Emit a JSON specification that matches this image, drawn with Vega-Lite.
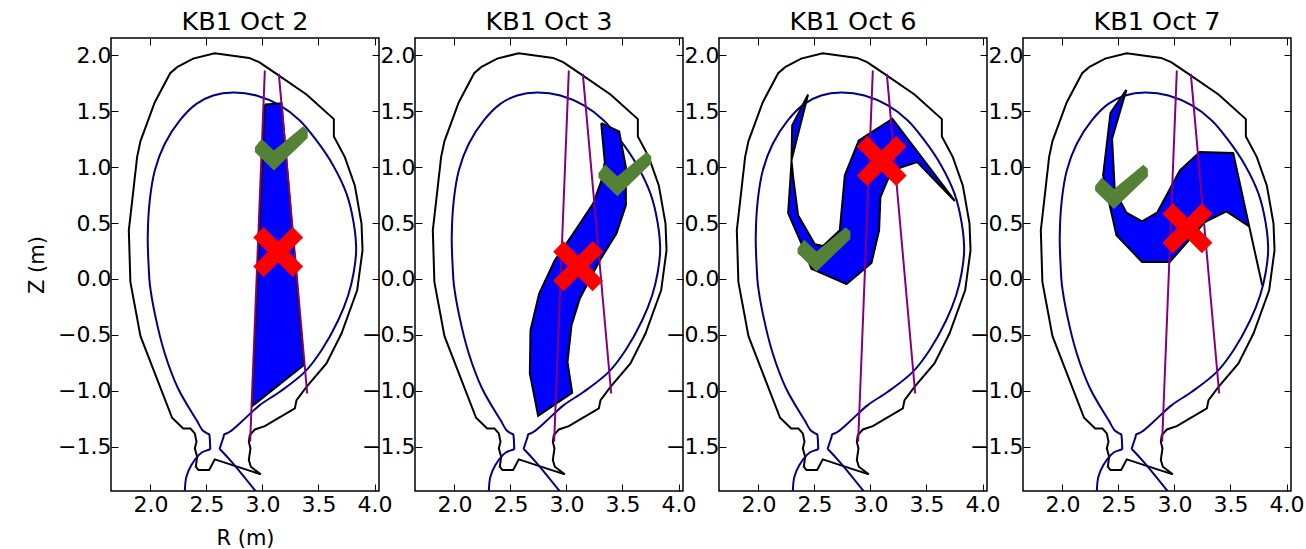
{"$schema":"https://vega.github.io/schema/vega-lite/v6.json","padding":{"left":25,"top":9,"right":5,"bottom":5},"background":"white","bounds":"flush","spacing":36,
"datasets":{
"wall":[{"i":0,"R":1.807,"Z":0.435},{"i":1,"R":1.881,"Z":1.089},{"i":2,"R":1.911,"Z":1.232},{"i":3,"R":2.039,"Z":1.58},{"i":4,"R":2.176,"Z":1.839},{"i":5,"R":2.238,"Z":1.893},{"i":6,"R":2.381,"Z":1.97},{"i":7,"R":2.574,"Z":2.018},{"i":8,"R":2.881,"Z":1.976},{"i":9,"R":2.97,"Z":1.938},{"i":10,"R":3.125,"Z":1.833},{"i":11,"R":3.393,"Z":1.649},{"i":12,"R":3.637,"Z":1.429},{"i":13,"R":3.637,"Z":1.274},{"i":14,"R":3.735,"Z":1.089},{"i":15,"R":3.824,"Z":0.836},{"i":16,"R":3.884,"Z":0.494},{"i":17,"R":3.893,"Z":0.256},{"i":18,"R":3.845,"Z":-0.102},{"i":19,"R":3.705,"Z":-0.488},{"i":20,"R":3.571,"Z":-0.756},{"i":21,"R":3.393,"Z":-0.965},{"i":22,"R":3.304,"Z":-1.084},{"i":23,"R":3.289,"Z":-1.158},{"i":24,"R":3.021,"Z":-1.316},{"i":25,"R":2.932,"Z":-1.346},{"i":26,"R":2.887,"Z":-1.396},{"i":27,"R":2.878,"Z":-1.456},{"i":28,"R":2.893,"Z":-1.515},{"i":29,"R":2.878,"Z":-1.619},{"i":30,"R":2.896,"Z":-1.679},{"i":31,"R":2.985,"Z":-1.747},{"i":32,"R":2.574,"Z":-1.613},{"i":33,"R":2.524,"Z":-1.709},{"i":34,"R":2.429,"Z":-1.709},{"i":35,"R":2.405,"Z":-1.679},{"i":36,"R":2.417,"Z":-1.59},{"i":37,"R":2.396,"Z":-1.515},{"i":38,"R":2.411,"Z":-1.456},{"i":39,"R":2.396,"Z":-1.381},{"i":40,"R":2.357,"Z":-1.337},{"i":41,"R":2.292,"Z":-1.337},{"i":42,"R":2.193,"Z":-1.241},{"i":43,"R":1.911,"Z":-0.512},{"i":44,"R":1.821,"Z":-0.027},{"i":45,"R":1.807,"Z":0.435}],
"separatrix":[{"i":0,"R":2.307,"Z":-1.896},{"i":1,"R":2.321,"Z":-1.768},{"i":2,"R":2.366,"Z":-1.664},{"i":3,"R":2.455,"Z":-1.554},{"i":4,"R":2.52,"Z":-1.527},{"i":5,"R":2.533,"Z":-1.521},{"i":6,"R":2.533,"Z":-1.5},{"i":7,"R":2.528,"Z":-1.41},{"i":8,"R":2.524,"Z":-1.39},{"i":9,"R":2.515,"Z":-1.385},{"i":10,"R":2.47,"Z":-1.358},{"i":11,"R":2.411,"Z":-1.262},{"i":12,"R":2.247,"Z":-0.98},{"i":13,"R":2.128,"Z":-0.667},{"i":14,"R":2.039,"Z":-0.31},{"i":15,"R":1.994,"Z":-0.042},{"i":16,"R":1.985,"Z":0.092},{"i":17,"R":1.976,"Z":0.375},{"i":18,"R":1.994,"Z":0.702},{"i":19,"R":2.039,"Z":0.97},{"i":20,"R":2.128,"Z":1.208},{"i":21,"R":2.262,"Z":1.417},{"i":22,"R":2.41,"Z":1.565},{"i":23,"R":2.56,"Z":1.64},{"i":24,"R":2.738,"Z":1.667},{"i":25,"R":2.946,"Z":1.64},{"i":26,"R":3.155,"Z":1.551},{"i":27,"R":3.333,"Z":1.417},{"i":28,"R":3.482,"Z":1.238},{"i":29,"R":3.631,"Z":1.015},{"i":30,"R":3.75,"Z":0.762},{"i":31,"R":3.815,"Z":0.494},{"i":32,"R":3.836,"Z":0.256},{"i":33,"R":3.815,"Z":0.062},{"i":34,"R":3.765,"Z":-0.146},{"i":35,"R":3.676,"Z":-0.369},{"i":36,"R":3.527,"Z":-0.637},{"i":37,"R":3.378,"Z":-0.831},{"i":38,"R":3.155,"Z":-1.009},{"i":39,"R":2.976,"Z":-1.128},{"i":40,"R":2.8125,"Z":-1.277},{"i":41,"R":2.708,"Z":-1.366},{"i":42,"R":2.67,"Z":-1.385},{"i":43,"R":2.658,"Z":-1.39},{"i":44,"R":2.653,"Z":-1.41},{"i":45,"R":2.624,"Z":-1.5},{"i":46,"R":2.619,"Z":-1.521},{"i":47,"R":2.63,"Z":-1.532},{"i":48,"R":2.723,"Z":-1.634},{"i":49,"R":2.9375,"Z":-1.896}],
"chords":[{"chord":"a","i":0,"R":3.021,"Z":1.863},{"chord":"a","i":1,"R":2.89,"Z":-1.456},{"chord":"b","i":0,"R":3.146,"Z":1.833},{"chord":"b","i":1,"R":3.399,"Z":-1.024}],
"regions":[
{"day":"Oct 2","i":0,"R":3.021,"Z":1.56},{"day":"Oct 2","i":1,"R":3.17,"Z":1.571},{"day":"Oct 2","i":2,"R":3.369,"Z":-0.771},{"day":"Oct 2","i":3,"R":2.908,"Z":-1.137},{"day":"Oct 2","i":4,"R":3.021,"Z":1.56},
{"day":"Oct 3","i":0,"R":3.31,"Z":1.393},{"day":"Oct 3","i":1,"R":3.47,"Z":1.319},{"day":"Oct 3","i":2,"R":3.53,"Z":1.0},{"day":"Oct 3","i":3,"R":3.53,"Z":0.658},{"day":"Oct 3","i":4,"R":3.446,"Z":0.405},{"day":"Oct 3","i":5,"R":3.298,"Z":0.167},{"day":"Oct 3","i":6,"R":3.119,"Z":-0.175},{"day":"Oct 3","i":7,"R":3.045,"Z":-0.413},{"day":"Oct 3","i":8,"R":3.009,"Z":-0.741},{"day":"Oct 3","i":9,"R":3.051,"Z":-1.017},{"day":"Oct 3","i":10,"R":2.747,"Z":-1.223},{"day":"Oct 3","i":11,"R":2.673,"Z":-0.845},{"day":"Oct 3","i":12,"R":2.679,"Z":-0.458},{"day":"Oct 3","i":13,"R":2.756,"Z":-0.13},{"day":"Oct 3","i":14,"R":2.896,"Z":0.167},{"day":"Oct 3","i":15,"R":3.06,"Z":0.405},{"day":"Oct 3","i":16,"R":3.238,"Z":0.673},{"day":"Oct 3","i":17,"R":3.313,"Z":0.881},{"day":"Oct 3","i":18,"R":3.342,"Z":1.045},{"day":"Oct 3","i":19,"R":3.31,"Z":1.393},
{"day":"Oct 6","i":0,"R":2.443,"Z":1.649},{"day":"Oct 6","i":1,"R":2.301,"Z":1.372},{"day":"Oct 6","i":2,"R":2.295,"Z":1.045},{"day":"Oct 6","i":3,"R":2.265,"Z":0.589},{"day":"Oct 6","i":4,"R":2.384,"Z":0.316},{"day":"Oct 6","i":5,"R":2.473,"Z":0.092},{"day":"Oct 6","i":6,"R":2.786,"Z":-0.047},{"day":"Oct 6","i":7,"R":3.009,"Z":0.143},{"day":"Oct 6","i":8,"R":3.077,"Z":0.435},{"day":"Oct 6","i":9,"R":3.089,"Z":0.732},{"day":"Oct 6","i":10,"R":3.158,"Z":0.896},{"day":"Oct 6","i":11,"R":3.262,"Z":0.994},{"day":"Oct 6","i":12,"R":3.417,"Z":1.045},{"day":"Oct 6","i":13,"R":3.753,"Z":0.697},{"day":"Oct 6","i":14,"R":3.196,"Z":1.432},{"day":"Oct 6","i":15,"R":2.896,"Z":1.238},{"day":"Oct 6","i":16,"R":2.771,"Z":0.926},{"day":"Oct 6","i":17,"R":2.726,"Z":0.435},{"day":"Oct 6","i":18,"R":2.577,"Z":0.295},{"day":"Oct 6","i":19,"R":2.503,"Z":0.31},{"day":"Oct 6","i":20,"R":2.354,"Z":0.569},{"day":"Oct 6","i":21,"R":2.31,"Z":0.911},{"day":"Oct 6","i":22,"R":2.295,"Z":1.06},{"day":"Oct 6","i":23,"R":2.443,"Z":1.649},
{"day":"Oct 7","i":0,"R":2.571,"Z":1.691},{"day":"Oct 7","i":1,"R":2.429,"Z":1.485},{"day":"Oct 7","i":2,"R":2.363,"Z":0.926},{"day":"Oct 7","i":3,"R":2.482,"Z":0.39},{"day":"Oct 7","i":4,"R":2.711,"Z":0.152},{"day":"Oct 7","i":5,"R":2.958,"Z":0.152},{"day":"Oct 7","i":6,"R":3.271,"Z":0.509},{"day":"Oct 7","i":7,"R":3.464,"Z":0.604},{"day":"Oct 7","i":8,"R":3.667,"Z":0.47},{"day":"Oct 7","i":9,"R":3.783,"Z":-0.056},{"day":"Oct 7","i":10,"R":3.667,"Z":0.47},{"day":"Oct 7","i":11,"R":3.524,"Z":1.125},{"day":"Oct 7","i":12,"R":3.226,"Z":1.134},{"day":"Oct 7","i":13,"R":3.048,"Z":0.97},{"day":"Oct 7","i":14,"R":2.845,"Z":0.592},{"day":"Oct 7","i":15,"R":2.711,"Z":0.515},{"day":"Oct 7","i":16,"R":2.571,"Z":0.592},{"day":"Oct 7","i":17,"R":2.467,"Z":0.792},{"day":"Oct 7","i":18,"R":2.443,"Z":1.253},{"day":"Oct 7","i":19,"R":2.571,"Z":1.691}],
"checks":[{"day":"Oct 2","R":3.168,"Z":1.168},{"day":"Oct 3","R":3.521,"Z":0.938},{"day":"Oct 6","R":2.585,"Z":0.264},{"day":"Oct 7","R":2.527,"Z":0.822}],
"crosses":[{"day":"Oct 2","R":3.14,"Z":0.241},{"day":"Oct 3","R":3.104,"Z":0.114},{"day":"Oct 6","R":3.1,"Z":1.055},{"day":"Oct 7","R":3.115,"Z":0.454}]
},
"config":{"view":{"stroke":"#000000","strokeWidth":1.5},"font":"DejaVu Sans","title":{"font":"DejaVu Sans","fontSize":25.5,"fontWeight":"normal","color":"#000000","offset":2},"axis":{"grid":false,"domain":false,"tickColor":"#000000","tickWidth":1,"tickSize":-7,"labelFont":"DejaVu Sans","labelFontSize":22,"labelColor":"#000000","labelOverlap":false,"labelFlush":false,"labelPadding":7,"titleFont":"DejaVu Sans","titleFontSize":21,"titleFontWeight":"normal","titleColor":"#000000","titlePadding":6},"axisX":{"labelPadding":10,"titlePadding":12},"axisY":{"titlePadding":10}},
"hconcat":[
{"title":"KB1 Oct 2","width":268,"height":453,"resolve":{"axis":{"x":"independent","y":"independent"}},"layer":[
{"data":{"name":"wall"},"mark":{"type":"line","stroke":"#000000","strokeWidth":2,"clip":true},"encoding":{"x":{"field":"R","type":"quantitative","scale":{"domain":[1.648,4.04],"nice":false,"zero":false},"axis":{"values":[2,2.5,3,3.5,4],"format":".1f","title":"R (m)"}},"y":{"field":"Z","type":"quantitative","scale":{"domain":[-1.896,2.154],"nice":false,"zero":false},"axis":{"values":[-1.5,-1,-0.5,0,0.5,1,1.5,2],"format":".1f","title":"Z (m)"}},"order":{"field":"i"}}},
{"data":{"name":"separatrix"},"mark":{"type":"line","stroke":"#000080","strokeWidth":2,"interpolate":"catmull-rom","clip":true},"encoding":{"x":{"field":"R","type":"quantitative","axis":{"orient":"top","values":[2,2.5,3,3.5,4],"labels":false,"title":null}},"y":{"field":"Z","type":"quantitative","axis":{"orient":"right","values":[-1.5,-1,-0.5,0,0.5,1,1.5,2],"labels":false,"title":null}},"order":{"field":"i"}}},
{"data":{"name":"regions"},"transform":[{"filter":{"field":"day","equal":"Oct 2"}}],"mark":{"type":"line","stroke":"#000000","fill":"#0000ff","strokeWidth":2,"clip":true},"encoding":{"x":{"field":"R","type":"quantitative","axis":null},"y":{"field":"Z","type":"quantitative","axis":null},"order":{"field":"i"}}},
{"data":{"name":"chords"},"mark":{"type":"line","stroke":"#800080","strokeWidth":2,"clip":true},"encoding":{"x":{"field":"R","type":"quantitative","axis":null},"y":{"field":"Z","type":"quantitative","axis":null},"detail":{"field":"chord"},"order":{"field":"i"}}},
{"data":{"name":"checks"},"transform":[{"filter":{"field":"day","equal":"Oct 2"}}],"mark":{"type":"point","shape":"M-.99-.04L-.74-.36L-.28.08L.82-.83L.99-.67L.99-.39L-.28.83L-.99.14Z","size":2844,"filled":true,"fill":"#558137","opacity":1,"strokeWidth":0,"clip":true},"encoding":{"x":{"field":"R","type":"quantitative","axis":null},"y":{"field":"Z","type":"quantitative","axis":null}}},
{"data":{"name":"crosses"},"transform":[{"filter":{"field":"day","equal":"Oct 2"}}],"mark":{"type":"point","shape":"M-1-.58L-.58-1L0-.42L.58-1L1-.58L.42 0L1 .58L.58 1L0 .42L-.58 1L-1 .58L-.42 0Z","size":2500,"filled":true,"fill":"#ff0000","opacity":1,"strokeWidth":0,"clip":true},"encoding":{"x":{"field":"R","type":"quantitative","axis":null},"y":{"field":"Z","type":"quantitative","axis":null}}}
]},
{"title":"KB1 Oct 3","width":268,"height":453,"resolve":{"axis":{"x":"independent","y":"independent"}},"layer":[
{"data":{"name":"wall"},"mark":{"type":"line","stroke":"#000000","strokeWidth":2,"clip":true},"encoding":{"x":{"field":"R","type":"quantitative","scale":{"domain":[1.648,4.04],"nice":false,"zero":false},"axis":{"values":[2,2.5,3,3.5,4],"format":".1f","title":null}},"y":{"field":"Z","type":"quantitative","scale":{"domain":[-1.896,2.154],"nice":false,"zero":false},"axis":{"values":[-1.5,-1,-0.5,0,0.5,1,1.5,2],"format":".1f","title":null}},"order":{"field":"i"}}},
{"data":{"name":"separatrix"},"mark":{"type":"line","stroke":"#000080","strokeWidth":2,"interpolate":"catmull-rom","clip":true},"encoding":{"x":{"field":"R","type":"quantitative","axis":{"orient":"top","values":[2,2.5,3,3.5,4],"labels":false,"title":null}},"y":{"field":"Z","type":"quantitative","axis":{"orient":"right","values":[-1.5,-1,-0.5,0,0.5,1,1.5,2],"labels":false,"title":null}},"order":{"field":"i"}}},
{"data":{"name":"regions"},"transform":[{"filter":{"field":"day","equal":"Oct 3"}}],"mark":{"type":"line","stroke":"#000000","fill":"#0000ff","strokeWidth":2,"clip":true},"encoding":{"x":{"field":"R","type":"quantitative","axis":null},"y":{"field":"Z","type":"quantitative","axis":null},"order":{"field":"i"}}},
{"data":{"name":"chords"},"mark":{"type":"line","stroke":"#800080","strokeWidth":2,"clip":true},"encoding":{"x":{"field":"R","type":"quantitative","axis":null},"y":{"field":"Z","type":"quantitative","axis":null},"detail":{"field":"chord"},"order":{"field":"i"}}},
{"data":{"name":"checks"},"transform":[{"filter":{"field":"day","equal":"Oct 3"}}],"mark":{"type":"point","shape":"M-.99-.04L-.74-.36L-.28.08L.82-.83L.99-.67L.99-.39L-.28.83L-.99.14Z","size":2844,"filled":true,"fill":"#558137","opacity":1,"strokeWidth":0,"clip":true},"encoding":{"x":{"field":"R","type":"quantitative","axis":null},"y":{"field":"Z","type":"quantitative","axis":null}}},
{"data":{"name":"crosses"},"transform":[{"filter":{"field":"day","equal":"Oct 3"}}],"mark":{"type":"point","shape":"M-1-.58L-.58-1L0-.42L.58-1L1-.58L.42 0L1 .58L.58 1L0 .42L-.58 1L-1 .58L-.42 0Z","size":2500,"filled":true,"fill":"#ff0000","opacity":1,"strokeWidth":0,"clip":true},"encoding":{"x":{"field":"R","type":"quantitative","axis":null},"y":{"field":"Z","type":"quantitative","axis":null}}}
]},
{"title":"KB1 Oct 6","width":268,"height":453,"resolve":{"axis":{"x":"independent","y":"independent"}},"layer":[
{"data":{"name":"wall"},"mark":{"type":"line","stroke":"#000000","strokeWidth":2,"clip":true},"encoding":{"x":{"field":"R","type":"quantitative","scale":{"domain":[1.648,4.04],"nice":false,"zero":false},"axis":{"values":[2,2.5,3,3.5,4],"format":".1f","title":null}},"y":{"field":"Z","type":"quantitative","scale":{"domain":[-1.896,2.154],"nice":false,"zero":false},"axis":{"values":[-1.5,-1,-0.5,0,0.5,1,1.5,2],"format":".1f","title":null}},"order":{"field":"i"}}},
{"data":{"name":"separatrix"},"mark":{"type":"line","stroke":"#000080","strokeWidth":2,"interpolate":"catmull-rom","clip":true},"encoding":{"x":{"field":"R","type":"quantitative","axis":{"orient":"top","values":[2,2.5,3,3.5,4],"labels":false,"title":null}},"y":{"field":"Z","type":"quantitative","axis":{"orient":"right","values":[-1.5,-1,-0.5,0,0.5,1,1.5,2],"labels":false,"title":null}},"order":{"field":"i"}}},
{"data":{"name":"regions"},"transform":[{"filter":{"field":"day","equal":"Oct 6"}}],"mark":{"type":"line","stroke":"#000000","fill":"#0000ff","strokeWidth":2,"clip":true},"encoding":{"x":{"field":"R","type":"quantitative","axis":null},"y":{"field":"Z","type":"quantitative","axis":null},"order":{"field":"i"}}},
{"data":{"name":"chords"},"mark":{"type":"line","stroke":"#800080","strokeWidth":2,"clip":true},"encoding":{"x":{"field":"R","type":"quantitative","axis":null},"y":{"field":"Z","type":"quantitative","axis":null},"detail":{"field":"chord"},"order":{"field":"i"}}},
{"data":{"name":"checks"},"transform":[{"filter":{"field":"day","equal":"Oct 6"}}],"mark":{"type":"point","shape":"M-.99-.04L-.74-.36L-.28.08L.82-.83L.99-.67L.99-.39L-.28.83L-.99.14Z","size":2844,"filled":true,"fill":"#558137","opacity":1,"strokeWidth":0,"clip":true},"encoding":{"x":{"field":"R","type":"quantitative","axis":null},"y":{"field":"Z","type":"quantitative","axis":null}}},
{"data":{"name":"crosses"},"transform":[{"filter":{"field":"day","equal":"Oct 6"}}],"mark":{"type":"point","shape":"M-1-.58L-.58-1L0-.42L.58-1L1-.58L.42 0L1 .58L.58 1L0 .42L-.58 1L-1 .58L-.42 0Z","size":2500,"filled":true,"fill":"#ff0000","opacity":1,"strokeWidth":0,"clip":true},"encoding":{"x":{"field":"R","type":"quantitative","axis":null},"y":{"field":"Z","type":"quantitative","axis":null}}}
]},
{"title":"KB1 Oct 7","width":268,"height":453,"resolve":{"axis":{"x":"independent","y":"independent"}},"layer":[
{"data":{"name":"wall"},"mark":{"type":"line","stroke":"#000000","strokeWidth":2,"clip":true},"encoding":{"x":{"field":"R","type":"quantitative","scale":{"domain":[1.648,4.04],"nice":false,"zero":false},"axis":{"values":[2,2.5,3,3.5,4],"format":".1f","title":null}},"y":{"field":"Z","type":"quantitative","scale":{"domain":[-1.896,2.154],"nice":false,"zero":false},"axis":{"values":[-1.5,-1,-0.5,0,0.5,1,1.5,2],"format":".1f","title":null}},"order":{"field":"i"}}},
{"data":{"name":"separatrix"},"mark":{"type":"line","stroke":"#000080","strokeWidth":2,"interpolate":"catmull-rom","clip":true},"encoding":{"x":{"field":"R","type":"quantitative","axis":{"orient":"top","values":[2,2.5,3,3.5,4],"labels":false,"title":null}},"y":{"field":"Z","type":"quantitative","axis":{"orient":"right","values":[-1.5,-1,-0.5,0,0.5,1,1.5,2],"labels":false,"title":null}},"order":{"field":"i"}}},
{"data":{"name":"regions"},"transform":[{"filter":{"field":"day","equal":"Oct 7"}}],"mark":{"type":"line","stroke":"#000000","fill":"#0000ff","strokeWidth":2,"clip":true},"encoding":{"x":{"field":"R","type":"quantitative","axis":null},"y":{"field":"Z","type":"quantitative","axis":null},"order":{"field":"i"}}},
{"data":{"name":"chords"},"mark":{"type":"line","stroke":"#800080","strokeWidth":2,"clip":true},"encoding":{"x":{"field":"R","type":"quantitative","axis":null},"y":{"field":"Z","type":"quantitative","axis":null},"detail":{"field":"chord"},"order":{"field":"i"}}},
{"data":{"name":"checks"},"transform":[{"filter":{"field":"day","equal":"Oct 7"}}],"mark":{"type":"point","shape":"M-.99-.04L-.74-.36L-.28.08L.82-.83L.99-.67L.99-.39L-.28.83L-.99.14Z","size":2844,"filled":true,"fill":"#558137","opacity":1,"strokeWidth":0,"clip":true},"encoding":{"x":{"field":"R","type":"quantitative","axis":null},"y":{"field":"Z","type":"quantitative","axis":null}}},
{"data":{"name":"crosses"},"transform":[{"filter":{"field":"day","equal":"Oct 7"}}],"mark":{"type":"point","shape":"M-1-.58L-.58-1L0-.42L.58-1L1-.58L.42 0L1 .58L.58 1L0 .42L-.58 1L-1 .58L-.42 0Z","size":2500,"filled":true,"fill":"#ff0000","opacity":1,"strokeWidth":0,"clip":true},"encoding":{"x":{"field":"R","type":"quantitative","axis":null},"y":{"field":"Z","type":"quantitative","axis":null}}}
]}
]}
